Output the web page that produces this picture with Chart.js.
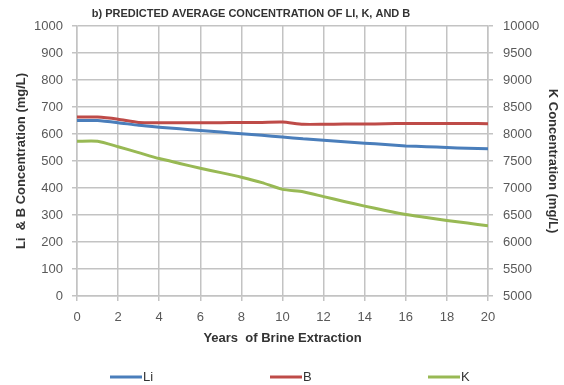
<!DOCTYPE html>
<html>
<head>
<meta charset="utf-8">
<script src="https://cdn.jsdelivr.net/npm/chart.js@4"></script>
<style>
  html, body { margin: 0; padding: 0; background: #fff; }
  #wrap { width: 564px; height: 385px; position: relative; }
</style>
</head>
<body>
<div id="wrap"><canvas id="concChart"></canvas></div>
<script>
// Data
const years = [0, 1, 2, 3, 4, 5, 6, 7, 8, 9, 10, 11, 12, 13, 14, 15, 16, 17, 18, 19, 20];
const liValues = [650, 650, 642, 632, 625, 619, 613, 607, 601, 595, 589, 582, 577, 571, 566, 561, 556, 553, 550, 547, 545];
const bValues = [663, 663, 655, 643, 642, 642, 642, 642, 643, 643, 644, 636, 636, 637, 637, 638, 639, 639, 639, 639, 638];
const kValues = [7865, 7865, 7765, 7655, 7545, 7455, 7365, 7285, 7200, 7100, 6975, 6930, 6840, 6750, 6665, 6585, 6510, 6455, 6400, 6350, 6300];

const titleText = 'b) PREDICTED AVERAGE CONCENTRATION OF LI, K, AND B';
const gridColor = '#c3c3c3';
const tickColor = '#595959';
const fontFamily = '"Liberation Sans", Arial, sans-serif';

function toPoints(values) {
    return years.map((yr, i) => ({ x: yr, y: values[i] }));
}

function plainTick(value) {
    return String(value);
}

// Title drawn slightly left of center, like the original
const titlePlugin = {
    id: 'offsetTitle',
    afterDraw(chart) {
        const ctx = chart.ctx;
        ctx.save();
        ctx.font = 'bold 11px ' + fontFamily;
        ctx.fillStyle = '#333';
        ctx.textAlign = 'center';
        ctx.textBaseline = 'middle';
        ctx.fillText(titleText, 251, 14);
        ctx.restore();
    }
};

// Wide-spaced legend along the bottom, built from the datasets
const legendPlugin = {
    id: 'wideLegend',
    afterDraw(chart) {
        const ctx = chart.ctx;
        const startX = [110, 270, 428];
        const y = 377;
        ctx.save();
        ctx.font = '13px ' + fontFamily;
        ctx.textBaseline = 'middle';
        ctx.textAlign = 'left';
        chart.data.datasets.forEach((ds, i) => {
            ctx.strokeStyle = ds.borderColor;
            ctx.lineWidth = 3;
            ctx.beginPath();
            ctx.moveTo(startX[i], y);
            ctx.lineTo(startX[i] + 32, y);
            ctx.stroke();
            ctx.fillStyle = '#333';
            ctx.fillText(ds.label, startX[i] + 33, y);
        });
        ctx.restore();
    }
};

const ctx = document.getElementById('concChart');
new Chart(ctx, {
    type: 'line',
    data: {
        datasets: [
            {
                label: 'Li',
                data: toPoints(liValues),
                borderColor: '#4a7ebb',
                borderWidth: 3,
                pointRadius: 0,
                tension: 0.2,
                yAxisID: 'y'
            },
            {
                label: 'B',
                data: toPoints(bValues),
                borderColor: '#be4b48',
                borderWidth: 3,
                pointRadius: 0,
                tension: 0.2,
                yAxisID: 'y'
            },
            {
                label: 'K',
                data: toPoints(kValues),
                borderColor: '#98b954',
                borderWidth: 3,
                pointRadius: 0,
                tension: 0.2,
                yAxisID: 'y1'
            }
        ]
    },
    options: {
        responsive: true,
        maintainAspectRatio: false,
        animation: false,
        layout: { padding: { top: 26, right: 0, bottom: 34, left: 0 } },
        plugins: {
            title: { display: false },
            tooltip: { enabled: false },
            legend: { display: false }
        },
        scales: {
            x: {
                type: 'linear',
                min: 0,
                max: 20,
                ticks: {
                    stepSize: 2,
                    autoSkip: false,
                    color: tickColor,
                    padding: 9,
                    callback: plainTick,
                    font: { family: fontFamily, size: 13 }
                },
                grid: { color: gridColor, lineWidth: 1.5, tickLength: 5 },
                border: { color: gridColor, width: 1.5 },
                title: {
                    display: true,
                    text: 'Years  of Brine Extraction',
                    color: '#333',
                    padding: { top: 4, bottom: 5 },
                    font: { family: fontFamily, size: 13, weight: 'bold' }
                },
                afterFit(axis) { axis.height = 55; }
            },
            y: {
                position: 'left',
                min: 0,
                max: 1000,
                ticks: {
                    stepSize: 100,
                    autoSkip: false,
                    color: tickColor,
                    padding: 9,
                    callback: plainTick,
                    font: { family: fontFamily, size: 13 }
                },
                grid: { color: gridColor, lineWidth: 1.5, tickLength: 5 },
                border: { color: gridColor, width: 1.5 },
                title: {
                    display: true,
                    text: 'Li  & B Concentration (mg/L)',
                    color: '#333',
                    padding: { top: 14, bottom: 4 },
                    font: { family: fontFamily, size: 13, weight: 'bold' }
                },
                afterFit(axis) { axis.width = 77; }
            },
            y1: {
                position: 'right',
                min: 5000,
                max: 10000,
                ticks: {
                    stepSize: 500,
                    autoSkip: false,
                    color: tickColor,
                    padding: 10,
                    callback: plainTick,
                    font: { family: fontFamily, size: 13 }
                },
                grid: { drawOnChartArea: false, color: gridColor, lineWidth: 1.5, tickLength: 5 },
                border: { color: gridColor, width: 1.5 },
                title: {
                    display: true,
                    text: 'K Concentration (mg/L)',
                    color: '#333',
                    padding: { top: 4, bottom: 2 },
                    font: { family: fontFamily, size: 13, weight: 'bold' }
                },
                afterFit(axis) { axis.width = 76; }
            }
        }
    },
    plugins: [titlePlugin, legendPlugin]
});
</script>
</body>
</html>
